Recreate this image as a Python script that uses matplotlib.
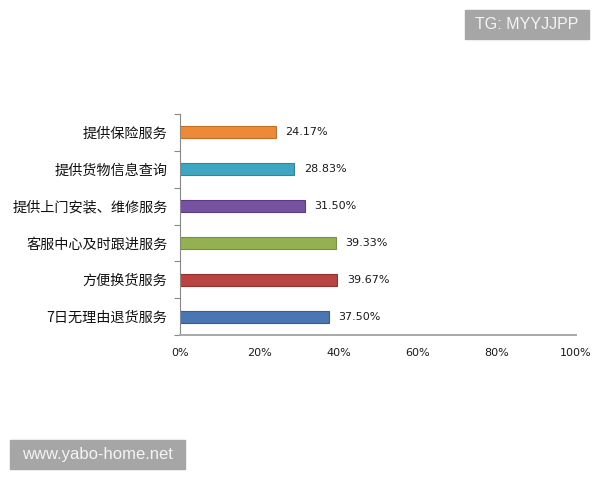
import matplotlib.pyplot as plt
from matplotlib.patches import Rectangle
import numpy as np

plt.rcParams['font.family'] = ['Noto Sans CJK SC', 'DejaVu Sans']

categories = ["提供保险服务", "提供货物信息查询", "提供上门安装、维修服务",
              "客服中心及时跟进服务", "方便换货服务", "7日无理由退货服务"]
values = [24.17, 28.83, 31.50, 39.33, 39.67, 37.50]
colors = ["#EC8A3A", "#3EA6C2", "#7553A0", "#93B150", "#B94441", "#4A76B4"]
edges = ["#C46E28", "#2C88A2", "#5A3C84", "#76923A", "#953230", "#365C94"]
xticks = [0, 20, 40, 60, 80, 100]
xticklabels = ["0%", "20%", "40%", "60%", "80%", "100%"]

fig = plt.figure(figsize=(6, 4.8), dpi=100)
ax = fig.add_axes([0.30, 0.302, 0.66, 0.4605])

y = np.arange(len(categories))
ax.barh(y, values, height=0.33, color=colors, edgecolor=edges, linewidth=0.8)
for yi, v in zip(y, values):
    ax.text(v + 2.5, yi, "%.2f%%" % v, va="center", ha="left", fontsize=8,
            family="DejaVu Sans", color="#1a1a1a")

ax.set_xlim(0, 100)
ax.set_ylim(len(categories) - 0.5, -0.5)
ax.set_yticks(y)
ax.set_yticklabels(categories, fontsize=10.2, color="#111111", fontweight="medium")
ax.set_yticks(np.arange(-0.5, len(categories)), minor=True)
ax.tick_params(axis="y", which="major", length=0, pad=9)
ax.tick_params(axis="y", which="minor", length=4, color="#888888", width=0.8)
ax.set_xticks(xticks)
ax.set_xticklabels(xticklabels, fontsize=8, family="DejaVu Sans", color="#1a1a1a")
ax.tick_params(axis="x", length=0, pad=9)

for s in ["top", "right"]:
    ax.spines[s].set_visible(False)
ax.spines["left"].set_color("#888888")
ax.spines["left"].set_linewidth(0.8)
ax.spines["bottom"].set_color("#A8A8A8")
ax.spines["bottom"].set_linewidth(1.4)

# watermark boxes
fig.patches.append(Rectangle((465 / 600, 1 - 39 / 480), 124 / 600, 29 / 480,
                             transform=fig.transFigure, color="#A6A6A6", zorder=5))
fig.text(527 / 600, 1 - 24.5 / 480, "TG: MYYJJPP", ha="center", va="center",
         color="#F4F4F4", fontsize=11.5, family="Liberation Sans", zorder=6)
fig.patches.append(Rectangle((10 / 600, 1 - 469 / 480), 175 / 600, 29 / 480,
                             transform=fig.transFigure, color="#A6A6A6", zorder=5))
fig.text(97.5 / 600, 1 - 454.5 / 480, "www.yabo-home.net", ha="center", va="center",
         color="#F4F4F4", fontsize=12, family="Liberation Sans", zorder=6)

fig.savefig("out.png", dpi=100)
